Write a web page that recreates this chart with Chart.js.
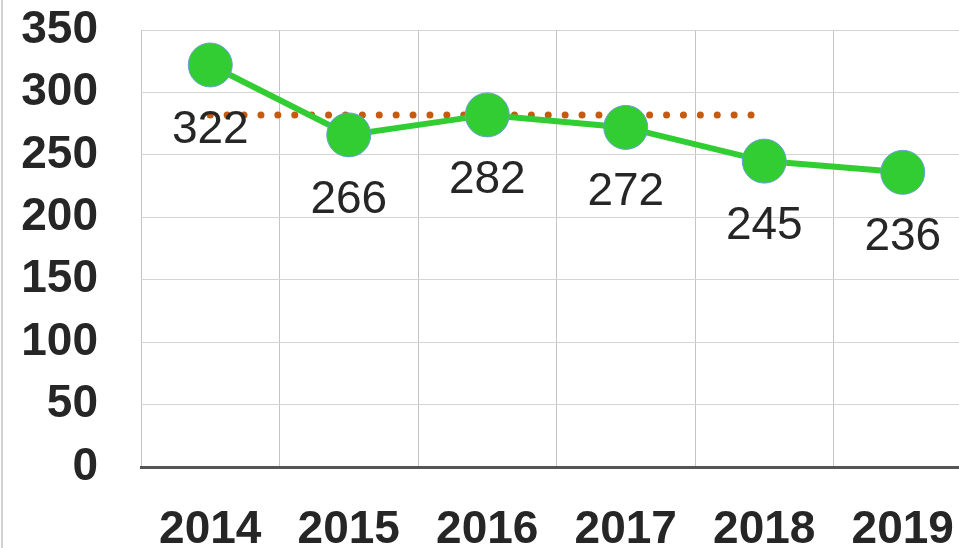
<!DOCTYPE html>
<html>
<head>
<meta charset="utf-8">
<script src="https://cdn.jsdelivr.net/npm/chart.js@4"></script>
<style>
  html, body { margin: 0; padding: 0; background: #fff; overflow: hidden; }
  #wrap { position: relative; width: 995px; height: 548px; }
  #edge { position: absolute; left: 1px; top: 0; width: 2px; height: 548px; background: #d0d0d0; }
</style>
</head>
<body>
<div id="wrap">
  <canvas id="chart" width="995" height="548"></canvas>
  <div id="edge"></div>
</div>
<script>
// datos del grafico
const anios = ["2014", "2015", "2016", "2017", "2018", "2019"];
const valores = [322, 266, 282, 272, 245, 236];
const promedio = [282, 282, 282, 282, 282, null];
const yTicks = [0, 50, 100, 150, 200, 250, 300, 350];

// etiquetas debajo de cada punto
const etiquetasPlugin = {
  id: "etiquetas",
  afterDatasetsDraw(chart) {
    const ctx = chart.ctx;
    const meta = chart.getDatasetMeta(0);
    ctx.save();
    ctx.font = "46px 'Liberation Sans', Arial, sans-serif";
    ctx.fillStyle = "#262626";
    ctx.textAlign = "center";
    ctx.textBaseline = "middle";
    meta.data.forEach((pt, i) => {
      ctx.fillText(String(valores[i]), pt.x, pt.y + 65);
    });
    ctx.restore();
  }
};

new Chart(document.getElementById("chart"), {
  type: "line",
  data: {
    labels: anios,
    datasets: [
      {
        data: valores,
        order: 1,
        borderColor: "#32cd32",
        borderWidth: 6,
        backgroundColor: "#32cd32",
        pointRadius: 22,
        pointBackgroundColor: "#32cd32",
        pointBorderColor: "#6a9fd8",
        pointBorderWidth: 1,
        tension: 0
      },
      {
        data: promedio,
        order: 2,
        borderColor: "#c55a11",
        borderWidth: 7,
        borderDash: [0, 16.9],
        borderCapStyle: "round",
        pointRadius: 0,
        spanGaps: false,
        tension: 0
      }
    ]
  },
  plugins: [etiquetasPlugin],
  options: {
    responsive: false,
    animation: false,
    layout: { padding: { top: 30, right: 9, left: 0, bottom: 0 } },
    plugins: { legend: { display: false }, tooltip: { enabled: false } },
    scales: {
      x: {
        offset: true,
        grid: { offset: true, color: "#c4c4c4", lineWidth: 1, drawTicks: false },
        border: { color: "#555555", width: 3 },
        ticks: {
          color: "#262626",
          padding: 36,
          autoSkip: false,
          maxRotation: 0,
          font: { family: "'Liberation Sans', Arial, sans-serif", size: 46, weight: "bold" }
        },
        afterFit(scale) {
          scale.height = 81;
          scale.paddingLeft = 0;
          scale.paddingRight = 0;
        }
      },
      y: {
        min: yTicks[0],
        max: yTicks[yTicks.length - 1],
        grid: { color: "#d4d4d4", lineWidth: 1, drawTicks: false },
        border: { display: false },
        ticks: {
          stepSize: yTicks[1] - yTicks[0],
          autoSkip: false,
          color: "#262626",
          padding: 43,
          font: { family: "'Liberation Sans', Arial, sans-serif", size: 46, weight: "bold" }
        },
        afterFit(scale) {
          scale.width = 141;
          scale.paddingTop = 0;
          scale.paddingBottom = 0;
        }
      }
    }
  }
});
</script>
</body>
</html>
